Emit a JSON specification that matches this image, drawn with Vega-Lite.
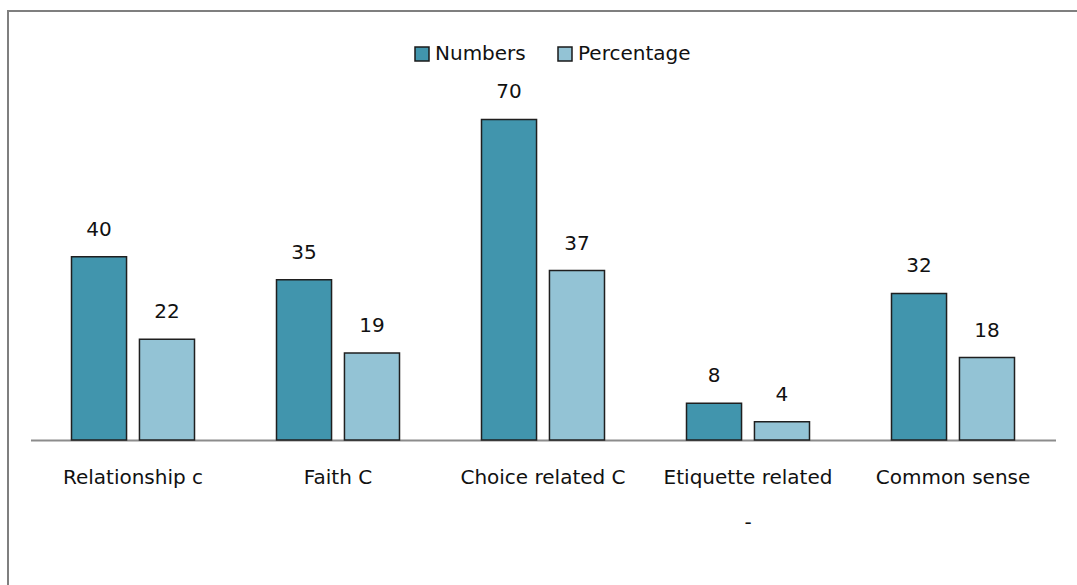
{
  "$schema": "https://vega.github.io/schema/vega-lite/v6.json",
  "width": 1085,
  "height": 580,
  "autosize": {"type": "none"},
  "padding": {"left": 8, "top": 11, "right": 0, "bottom": 0},
  "background": "white",
  "config": {
    "view": {"stroke": "#7f7f7f", "strokeWidth": 2},
    "font": "DejaVu Sans"
  },
  "data": {
    "values": [
      {"category": "Relationship c", "series": "Numbers", "value": 40},
      {"category": "Relationship c", "series": "Percentage", "value": 22},
      {"category": "Faith C", "series": "Numbers", "value": 35},
      {"category": "Faith C", "series": "Percentage", "value": 19},
      {"category": "Choice related C", "series": "Numbers", "value": 70},
      {"category": "Choice related C", "series": "Percentage", "value": 37},
      {"category": "Etiquette related|-", "series": "Numbers", "value": 8},
      {"category": "Etiquette related|-", "series": "Percentage", "value": 4},
      {"category": "Common sense", "series": "Numbers", "value": 32},
      {"category": "Common sense", "series": "Percentage", "value": 18}
    ]
  },
  "encoding": {
    "x": {
      "field": "category",
      "type": "nominal",
      "sort": null,
      "scale": {"range": [22.5, 1047.5], "paddingInner": 0.4, "paddingOuter": 0.2},
      "axis": {
        "title": null,
        "orient": "bottom",
        "offset": -151,
        "domainColor": "#8c8c8c",
        "domainWidth": 2,
        "ticks": false,
        "labelAngle": 0,
        "labelFontSize": 20,
        "labelColor": "#111111",
        "labelPadding": 27,
        "labelLineHeight": 45,
        "labelLimit": 400,
        "labelOverlap": false,
        "labelExpr": "split(datum.label, '|')"
      }
    },
    "xOffset": {"field": "series", "type": "nominal", "sort": ["Numbers", "Percentage"], "scale": {"paddingInner": 0.19}},
    "y": {
      "field": "value",
      "type": "quantitative",
      "scale": {"domain": [-32.97, 93.67], "nice": false, "zero": false},
      "axis": null
    }
  },
  "layer": [
    {
      "mark": {"type": "bar", "stroke": "#1f1f1f", "strokeWidth": 1.5},
      "encoding": {
        "y2": {"datum": 0},
        "color": {
          "field": "series",
          "type": "nominal",
          "scale": {"domain": ["Numbers", "Percentage"], "range": ["#4195ad", "#93c3d5"]},
          "legend": {
            "orient": "none",
            "legendX": 404,
            "legendY": 33,
            "direction": "horizontal",
            "title": null,
            "symbolType": "square",
            "symbolSize": 196,
            "symbolStrokeColor": "#1a1a1a",
            "symbolStrokeWidth": 1.5,
            "labelFontSize": 20,
            "labelColor": "#111111",
            "labelOffset": 3,
            "columnPadding": 29
          }
        }
      }
    },
    {
      "mark": {"type": "text", "baseline": "alphabetic", "dy": -21, "fontSize": 20, "color": "#111111"},
      "encoding": {
        "text": {"field": "value", "type": "quantitative"}
      }
    }
  ]
}
